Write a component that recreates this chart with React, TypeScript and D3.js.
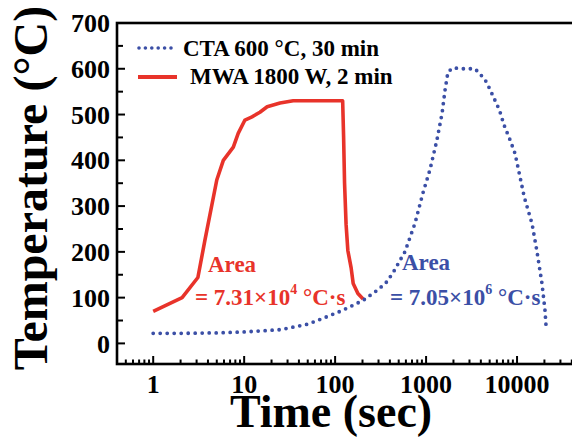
import React, { useEffect } from "react";
import * as d3 from "d3";

const ctaTime = [1, 2, 5, 10, 25, 50, 74, 120, 203, 300, 372, 450, 519, 585, 754, 928, 1105, 1315, 1500, 1615, 1740, 1970, 2500, 3000, 3440, 3880, 4620, 5370, 6400, 7200, 8400, 9500, 10700, 12000, 14600, 16500, 18800, 20300, 21000];
const ctaTemp = [22, 22, 23, 25, 30, 42, 55, 72, 94, 118, 135, 160, 182, 200, 262, 330, 380, 444, 503, 553, 593, 602, 600, 600, 600, 590, 571, 543, 510, 477, 444, 415, 367, 320, 262, 203, 131, 72, 28];

const mwaTime = [1, 2.08, 3.1, 3.7, 5.0, 5.9, 7.6, 8.6, 10.2, 12.2, 14.9, 17.9, 24.8, 34.6, 121, 124, 127, 132, 138, 150, 158, 178, 203];
const mwaTemp = [70, 100, 144, 225, 357, 400, 429, 459, 488, 495, 505, 517, 525, 530, 530, 450, 350, 260, 203, 165, 131, 109, 97];

const yTicks = [0, 100, 200, 300, 400, 500, 600, 700];
const yMinorTicks = [50, 150, 250, 350, 450, 550, 650];
const xLabelTicks = [1, 10, 100, 1000, 10000];

const RED = "#e8332a";
const BLUE = "#3b4fa6";
const FONT = "'Liberation Serif', 'Times New Roman', serif";

export default function App() {
  useEffect(() => {
    document.body.style.margin = "0";
  }, []);

  const x = d3.scaleLog().domain([0.4, 1e5]).range([117, 608]);
  const y = d3.scaleLinear().domain([-45, 700]).range([364, 23]);

  const xMinor: number[] = [];
  for (let e = -1; e <= 5; e++) {
    for (let m = 1; m <= 9; m++) {
      const v = m * Math.pow(10, e);
      if (v >= 0.4 && v <= 1e5) xMinor.push(v);
    }
  }

  const line = d3
    .line<[number, number]>()
    .x((d) => x(d[0]))
    .y((d) => y(d[1]));

  const ctaPts = ctaTime.map((t, i) => [t, ctaTemp[i]] as [number, number]);
  const mwaPts = mwaTime.map((t, i) => [t, mwaTemp[i]] as [number, number]);

  const x0 = x.range()[0];
  const x1 = x.range()[1];
  const yb = y.range()[0];
  const yt = y.range()[1];

  return (
    <svg width={572} height={438} style={{ display: "block", overflow: "hidden" }} fontFamily={FONT}>
      <rect x={0} y={0} width={572} height={438} fill="#fff" />
      {/* data */}
      <path d={line(mwaPts) || ""} fill="none" stroke={RED} strokeWidth={3.6} strokeLinejoin="round" />
      <path
        d={line(ctaPts) || ""}
        fill="none"
        stroke={BLUE}
        strokeWidth={3.8}
        strokeDasharray="0 7"
        strokeLinecap="round"
      />
      {/* frame */}
      <rect x={x0} y={yt} width={x1 - x0} height={yb - yt} fill="none" stroke="#000" strokeWidth={2.6} />
      {/* y ticks */}
      {yTicks.map((v) => (
        <g key={"yt" + v}>
          <line x1={x0} x2={x0 + 8} y1={y(v)} y2={y(v)} stroke="#000" strokeWidth={2} />
          <text x={110} y={y(v)} dy="0.35em" textAnchor="end" fontSize={26} fontWeight="bold">
            {v}
          </text>
        </g>
      ))}
      {yMinorTicks.map((v) => (
        <line key={"ym" + v} x1={x0} x2={x0 + 6} y1={y(v)} y2={y(v)} stroke="#000" strokeWidth={2} />
      ))}
      {/* x ticks */}
      {xMinor.map((v) => {
        const major = Math.abs(Math.log10(v) - Math.round(Math.log10(v))) < 1e-9;
        return (
          <line
            key={"xm" + v}
            x1={x(v)}
            x2={x(v)}
            y1={yb}
            y2={yb - (major ? 8 : 4.5)}
            stroke="#000"
            strokeWidth={2}
          />
        );
      })}
      {xLabelTicks.map((v) => (
        <text key={"xl" + v} x={x(v)} y={393} textAnchor="middle" fontSize={26} fontWeight="bold">
          {v}
        </text>
      ))}
      {/* axis titles */}
      <text x={331} y={427} textAnchor="middle" fontSize={46} fontWeight="bold">
        Time (sec)
      </text>
      <text
        transform="translate(47,188) rotate(-90)"
        textAnchor="middle"
        fontSize={48}
        fontWeight="bold"
      >
        Temperature (°C)
      </text>
      {/* legend */}
      <line x1={139} x2={177} y1={48} y2={48} stroke={BLUE} strokeWidth={3.6} strokeDasharray="0 6.4" strokeLinecap="round" />
      <text x={183} y={56} fontSize={23} fontWeight="bold">
        CTA 600 °C, 30 min
      </text>
      <line x1={138} x2={177} y1={77} y2={77} stroke={RED} strokeWidth={4.2} />
      <text x={190} y={84} fontSize={23} fontWeight="bold">
        MWA 1800 W, 2 min
      </text>
      {/* annotations */}
      <text x={208} y={272} fontSize={23} fontWeight="bold" fill={RED}>
        Area
      </text>
      <text x={195} y={305} fontSize={23} fontWeight="bold" fill={RED}>
        = 7.31×10
        <tspan fontSize={14} dy={-11}>4</tspan>
        <tspan dy={11}> °C·s</tspan>
      </text>
      <text x={402} y={270} fontSize={23} fontWeight="bold" fill={BLUE}>
        Area
      </text>
      <text x={390} y={305} fontSize={23} fontWeight="bold" fill={BLUE}>
        = 7.05×10
        <tspan fontSize={14} dy={-11}>6</tspan>
        <tspan dy={11}> °C·s</tspan>
      </text>
    </svg>
  );
}
